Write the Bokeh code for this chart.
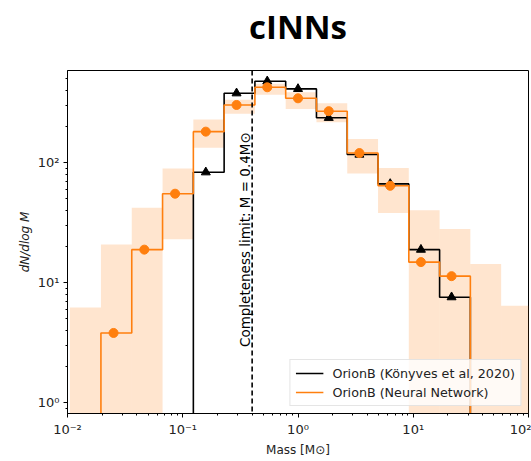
import math
from bokeh.plotting import figure
from bokeh.models import (FixedTicker, Span, Legend, LegendItem, Range1d,
                          CustomJSTickFormatter, LinearAxis)
from bokeh.core.properties import value
from bokeh.embed import file_html
from bokeh.resources import INLINE

# ---------------- data ----------------
bin_edges = [0.0105, 0.0195, 0.0361, 0.0668, 0.1236, 0.2286, 0.4227, 0.782,
             1.446, 2.675, 4.95, 9.15, 16.93, 31.3, 57.9, 107.1]
marker_mass = [0.01359, 0.0251, 0.0464, 0.0858, 0.1585, 0.293, 0.541, 1.0,
               1.848, 3.41, 6.31, 11.66, 21.5, 39.8, 73.6]
konyves = [0, 0, 0, 0, 83, 378, 476, 411, 236, 116.6, 66.4, 18.8, 7.55, 0, 0]
nn = [0, 3.8, 18.8, 55, 181, 302, 424, 343, 268, 120, 64, 14.8, 11.3, 0, 0]
nn_upper = [6.2, 20.7, 42, 89, 228, 333, 453, 385, 312, 157, 90, 40, 28, 14.3, 6.4]
nn_lower = [0, 0, 0, 23, 133, 255, 367, 280, 217, 81, 38, 0, 0, 0, 0]
completeness_limit = 0.4
x_ticks = [0.01, 0.1, 1, 10, 100]
y_ticks = [1, 10, 100]
title_text = "cINNs"

FLOOR = 0.5  # below the visible y range (stands for "no lower bound")
ORANGE = "#ff7f0e"


def step_xy(edges, vals):
    idx = [i for i, v in enumerate(vals) if v > 0]
    i0, i1 = idx[0], idx[-1]
    xs, ys = [edges[i0]], [FLOOR]
    for i in range(i0, i1 + 1):
        v = vals[i] if vals[i] > 0 else FLOOR
        xs += [edges[i], edges[i + 1]]
        ys += [v, v]
    xs.append(edges[i1 + 1])
    ys.append(FLOOR)
    return xs, ys


p = figure(width=531, height=461, x_axis_type="log", y_axis_type="log",
           x_range=Range1d(0.01, 100), y_range=Range1d(0.81, 585),
           output_backend="svg", toolbar_location=None,
           min_border_left=67, min_border_right=3, min_border_top=70,
           min_border_bottom=48)

# title drawn as the label of a bare axis above the frame (tight placement)
title_axis = LinearAxis(ticker=FixedTicker(ticks=[]), axis_label=title_text,
                        axis_line_color=None, major_tick_line_color=None,
                        minor_tick_line_color=None, major_tick_out=0,
                        major_tick_in=0, minor_tick_out=0, minor_tick_in=0,
                        major_label_standoff=0, axis_label_standoff=22,
                        axis_label_text_font="Open Sans",
                        axis_label_text_font_style="bold",
                        axis_label_text_font_size="33px",
                        axis_label_text_color="black")
p.add_layout(title_axis, "above")

p.grid.grid_line_color = None
p.outline_line_color = "black"
p.outline_line_alpha = 1
p.outline_line_width = 1
p.background_fill_color = "white"

# uncertainty band
lows = [v if v > 0 else FLOOR for v in nn_lower]
p.quad(left=bin_edges[:-1], right=bin_edges[1:], bottom=lows, top=nn_upper,
       fill_color=ORANGE, fill_alpha=0.2, line_color=None)

# steps
kx, ky = step_xy(bin_edges, konyves)
r_k = p.line(kx, ky, line_color="black", line_width=1.6)
nx, ny = step_xy(bin_edges, nn)
r_n = p.line(nx, ny, line_color=ORANGE, line_width=1.6)

# markers
kxm = [m for m, v in zip(marker_mass, konyves) if v > 0]
kym = [v for v in konyves if v > 0]
p.scatter(kxm, kym, marker="triangle", size=9, fill_color="black",
          line_color="black")
nxm = [m for m, v in zip(marker_mass, nn) if v > 0]
nym = [v for v in nn if v > 0]
p.scatter(nxm, nym, marker="circle", size=9, fill_color=ORANGE,
          line_color=ORANGE)

# completeness limit
p.add_layout(Span(location=completeness_limit, dimension="height",
                  line_color="black", line_width=1.6, line_dash="5 3"))
p.text(x=[completeness_limit], y=[2.9],
       text=["Completeness limit: M = 0.4M\u2299"],
       angle=math.pi / 2, text_align="left", text_baseline="bottom",
       x_offset=1, text_font=value("DejaVu Sans"),
       text_font_size="13.5px", text_color="black")

# axes
fmt = CustomJSTickFormatter(code="""
const sup = {"-2":"\u207b\u00b2","-1":"\u207b\u00b9","0":"\u2070","1":"\u00b9","2":"\u00b2","3":"\u00b3"};
const e = Math.round(Math.log10(tick));
return "10" + sup[String(e)];
""")
x_minor = [m * 10.0 ** n for n in range(-2, 2) for m in range(2, 10)]
y_minor = [m * 10.0 ** n for n in range(-1, 3) for m in range(2, 10)]
xax = p.below[0]
yax = p.left[0]
xax.ticker = FixedTicker(ticks=x_ticks, minor_ticks=x_minor)
yax.ticker = FixedTicker(ticks=y_ticks, minor_ticks=y_minor)
for ax in (xax, yax):
    ax.formatter = fmt
    ax.axis_line_color = "black"
    ax.major_tick_line_color = "black"
    ax.minor_tick_line_color = "black"
    ax.major_tick_out = 4
    ax.major_tick_in = 0
    ax.minor_tick_out = 2
    ax.minor_tick_in = 0
    ax.major_label_text_font = "DejaVu Sans"
    ax.major_label_text_font_size = "13px"
    ax.major_label_text_color = "#222222"
    ax.axis_label_text_font = "DejaVu Sans"
    ax.axis_label_text_font_size = "12px"
    ax.axis_label_text_color = "#222222"
    ax.major_label_standoff = 4
    ax.axis_label_standoff = 3

xax.axis_label = "Mass [M\u2299]"
xax.axis_label_text_font_style = "normal"
yax.axis_label = "dN/dlog M"
yax.axis_label_text_font_style = "italic"

legend = Legend(items=[
    LegendItem(label="OrionB (K\u00f6nyves et al, 2020)", renderers=[r_k]),
    LegendItem(label="OrionB (Neural Network)", renderers=[r_n]),
], location="bottom_right")
legend.label_text_font = "DejaVu Sans"
legend.label_text_font_size = "12.7px"
legend.label_text_color = "#222222"
legend.border_line_color = "#cccccc"
legend.border_line_width = 1
legend.background_fill_alpha = 0.8
legend.glyph_width = 28
legend.glyph_height = 16
legend.label_height = 16
legend.spacing = 3
legend.padding = 5
legend.margin = 7
legend.label_standoff = 9
p.add_layout(legend)

open("out.html", "w").write(file_html(p, INLINE))
